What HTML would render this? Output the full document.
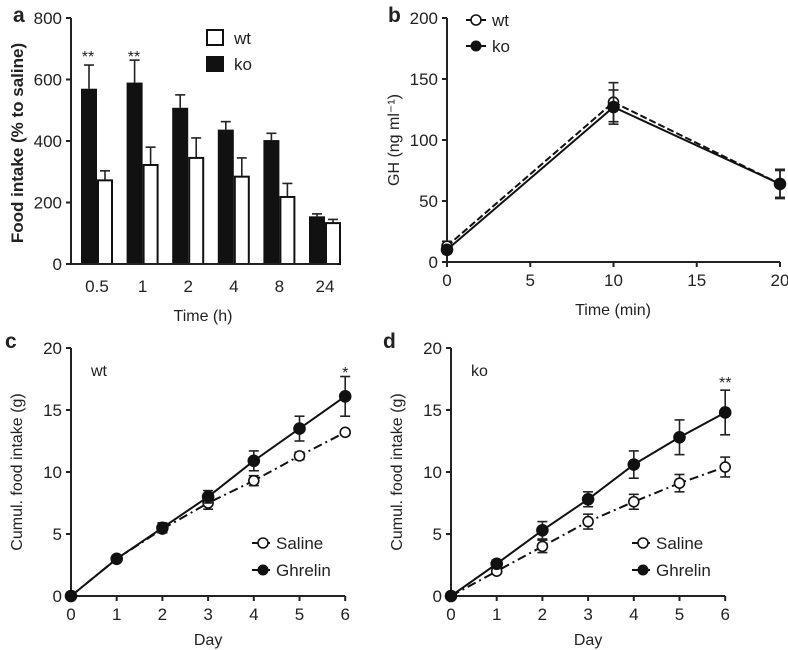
<!DOCTYPE html>
<html><head><meta charset="utf-8"><style>
html,body{margin:0;padding:0;background:#fff;}
svg{display:block;font-family:"Liberation Sans",sans-serif;}
</style></head><body>
<svg id="fig" width="788" height="650" viewBox="0 0 788 650" xmlns="http://www.w3.org/2000/svg"></svg>
<script>
// Panel a data
const aCategories = ["0.5","1","2","4","8","24"];
const aKo = [570,590,508,437,403,155];
const aKoErr = [77,73,42,26,22,8];
const aWt = [272,322,345,284,218,133];
const aWtErr = [31,58,65,61,44,12];
const aYTicks = [0,200,400,600,800];
// Panel b data
const bTimes = [0,10,20];
const bWt = [13,131,64];
const bWtErr = [4,16,12];
const bKo = [10,127,64];
const bKoErr = [3,14,11];
const bYTicks = [0,50,100,150,200];
const bXTicks = [0,5,10,15,20];
// Panel c/d data
const days = [0,1,2,3,4,5,6];
const cSaline = [0,3,5.4,7.5,9.3,11.3,13.2];
const cSalineErr = [0,0.1,0.3,0.5,0.4,0.3,0];
const cGhrelin = [0,3,5.5,8,10.9,13.5,16.1];
const cGhrelinErr = [0,0.1,0.4,0.5,0.8,1,1.6];
const dSaline = [0,2,4,6,7.6,9.1,10.4];
const dSalineErr = [0,0.2,0.5,0.6,0.6,0.7,0.8];
const dGhrelin = [0,2.6,5.3,7.8,10.6,12.8,14.8];
const dGhrelinErr = [0,0.3,0.7,0.6,1.1,1.4,1.8];
const cdYTicks = [0,5,10,15,20];

const NS="http://www.w3.org/2000/svg";
const svg=document.getElementById('fig');
function mk(tag,attrs,parent){const e=document.createElementNS(NS,tag);for(const k in attrs)e.setAttribute(k,attrs[k]);(parent||svg).appendChild(e);return e;}
function txt(s,x,y,size,anchor,parent,extra){const t=mk('text',Object.assign({x:x,y:y,'font-size':size,'text-anchor':anchor||'middle',fill:'#222'},extra||{}),parent);t.textContent=s;return t;}

function panel(name){const g=mk('g',{});return g;}

function yAxis(g,x,y0,y1,ticks,scale){
  const ax=mk('line',{x1:x,y1:y0+1,x2:x,y2:y1,stroke:'#222','stroke-width':2},g);
  
  ticks.forEach(v=>{const y=scale(v);mk('line',{x1:x-5,y1:y,x2:x,y2:y,stroke:'#222','stroke-width':2},g);
    const t=txt(String(v),x-9,y+6,17,'end',g);});
}
function errBar(g,x,y,yTop,yBot,cap){mk('line',{x1:x,y1:yTop,x2:x,y2:yBot,stroke:'#222','stroke-width':1.6},g);
  if(yTop!==y)mk('line',{x1:x-cap,y1:yTop,x2:x+cap,y2:yTop,stroke:'#222','stroke-width':1.6},g);
  if(yBot!==y)mk('line',{x1:x-cap,y1:yBot,x2:x+cap,y2:yBot,stroke:'#222','stroke-width':1.6},g);}

// ---------- Panel a ----------
(function(){
  const g=panel('panel-a');
  const ay=v=>264-v*(246/800);
  const ax0=97, step=45.6, bw=16;
  txt('a',13,22,21,'start',g,{'font-weight':'bold'});
  aCategories.forEach((c,i)=>{
    const cx=ax0+i*step;
    const kt=ay(aKo[i]+aKoErr[i]);
    mk('line',{x1:cx-bw/2,y1:kt,x2:cx-bw/2,y2:ay(aKo[i]),stroke:'#222','stroke-width':1.6},g);
    mk('line',{x1:cx-bw/2-5,y1:kt,x2:cx-bw/2+5,y2:kt,stroke:'#222','stroke-width':1.6},g);
    const b1=mk('rect',{x:cx-bw,y:ay(aKo[i]),width:bw,height:264-ay(aKo[i]),fill:'#111'},g);
    
    const wt=ay(aWt[i]+aWtErr[i]);
    mk('line',{x1:cx+bw/2,y1:wt,x2:cx+bw/2,y2:ay(aWt[i]),stroke:'#222','stroke-width':1.6},g);
    mk('line',{x1:cx+bw/2-5,y1:wt,x2:cx+bw/2+5,y2:wt,stroke:'#222','stroke-width':1.6},g);
    const b2=mk('rect',{x:cx+1,y:ay(aWt[i]),width:bw-2,height:264-ay(aWt[i]),fill:'#fff',stroke:'#111','stroke-width':2},g);
    
    const t=txt(c,cx,292,17,'middle',g);
  });
  yAxis(g,71,264,18,aYTicks,ay);
  const xa=mk('line',{x1:70,y1:264,x2:338,y2:264,stroke:'#222','stroke-width':2},g);
  
  txt('**',88,62,16,'middle',g);txt('**',134,62,16,'middle',g);
  const xt=txt('Time (h)',203,321,16,'middle',g);
  const yt=txt('Food intake (% to saline)',0,0,17,'middle',g,{'font-weight':'bold',transform:'translate(23,143) rotate(-90)'});
  const l1=mk('rect',{x:207,y:30,width:16,height:15,fill:'#fff',stroke:'#111','stroke-width':2},g);
  txt('wt',234,44,17,'start',g);
  const l2=mk('rect',{x:206,y:56,width:18,height:16,fill:'#111'},g);
  txt('ko',234,70,17,'start',g);
})();

// ---------- line panel helper ----------
function series(g,xs,ys,errs,sx,sy,filled,dash,name){
  const pts=xs.map((x,i)=>sx(x)+','+sy(ys[i])).join(' ');
  const pl=mk('polyline',{points:pts,fill:'none',stroke:'#111','stroke-width':2,'stroke-dasharray':dash||'none'},g);
  
  xs.forEach((x,i)=>{ if(errs[i]>0) errBar(g,sx(x),sy(ys[i]),sy(ys[i]+errs[i]),sy(ys[i]-errs[i]),5);});
  xs.forEach((x,i)=>{const c=mk('circle',{cx:sx(x),cy:sy(ys[i]),r:filled?5.5:5,fill:filled?'#111':'#fff',stroke:'#111','stroke-width':1.6},g);
    });
}
function xAxis(g,x0,x1,y,ticks,sx){
  const xa=mk('line',{x1:x0-1,y1:y,x2:x1,y2:y,stroke:'#222','stroke-width':2},g);
  
  ticks.forEach(v=>{mk('line',{x1:sx(v),y1:y,x2:sx(v),y2:y+5,stroke:'#222','stroke-width':2},g);
    const t=txt(String(v),sx(v),y+24,17,'middle',g);});
}

// ---------- Panel b ----------
(function(){
  const g=panel('panel-b');
  const sx=v=>447+v*(333/20), sy=v=>262-v*(244/200);
  txt('b',388,22,21,'start',g,{'font-weight':'bold'});
  yAxis(g,447,262,18,bYTicks,sy);
  xAxis(g,447,780,262,bXTicks,sx);
  series(g,bTimes,bWt,bWtErr,sx,sy,false,'7,3','wt');
  series(g,bTimes,bKo,bKoErr,sx,sy,true,null,'ko');
  txt('Time (min)',613,315,16,'middle',g);
  txt('GH (ng ml\u207B\u00B9)',0,0,16,'middle',g,{transform:'translate(399,140) rotate(-90)'});
  mk('line',{x1:466,y1:20,x2:486,y2:20,stroke:'#111','stroke-width':2},g);
  mk('circle',{cx:476,cy:20,r:5,fill:'#fff',stroke:'#111','stroke-width':1.6},g);
  txt('wt',492,26,17,'start',g);
  mk('line',{x1:466,y1:46,x2:486,y2:46,stroke:'#111','stroke-width':2},g);
  mk('circle',{cx:476,cy:46,r:5.5,fill:'#111'},g);
  txt('ko',492,52,17,'start',g);
})();

// ---------- Panels c and d ----------
function cumPanel(name,letter,lx,axX,label,sal,salE,ghr,ghrE,star,starX){
  const g=panel(name);
  const sx=v=>axX+v*45.7, sy=v=>596-v*(248/20);
  txt(letter,lx,348,21,'start',g,{'font-weight':'bold'});
  yAxis(g,axX,596,348,cdYTicks,sy);
  xAxis(g,axX,axX+6*45.7,596,days,sx);
  series(g,days,sal,salE,sx,sy,false,'9,4,2,4','saline');
  series(g,days,ghr,ghrE,sx,sy,true,null,'ghrelin');
  txt(label,axX+20,376,16,'start',g);
  txt(star,sx(6),starX,16,'middle',g);
  txt('Day',sx(3),645,16,'middle',g);
  txt('Cumul. food intake (g)',0,0,16,'middle',g,{transform:'translate('+(axX-49)+',472) rotate(-90)'});
  const lx0=axX+181;
  mk('line',{x1:lx0,y1:543,x2:lx0+18,y2:543,stroke:'#111','stroke-width':2},g);
  mk('circle',{cx:lx0+11,cy:543,r:5,fill:'#fff',stroke:'#111','stroke-width':1.6},g);
  txt('Saline',lx0+24,549,17,'start',g);
  mk('line',{x1:lx0,y1:570,x2:lx0+18,y2:570,stroke:'#111','stroke-width':2},g);
  mk('circle',{cx:lx0+11,cy:570,r:5.5,fill:'#111'},g);
  txt('Ghrelin',lx0+24,576,17,'start',g);
}
cumPanel('panel-c','c',5,71,'wt',cSaline,cSalineErr,cGhrelin,cGhrelinErr,'*',378);
cumPanel('panel-d','d',383,451,'ko',dSaline,dSalineErr,dGhrelin,dGhrelinErr,'**',388);
</script>
</body></html>
